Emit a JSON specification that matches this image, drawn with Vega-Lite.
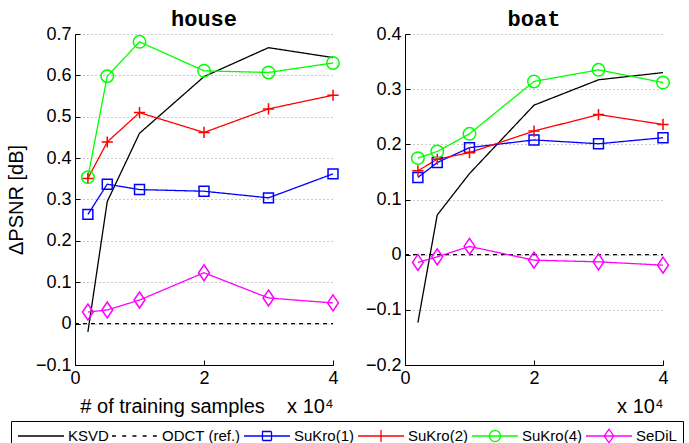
{
  "$schema": "https://vega.github.io/schema/vega-lite/v6.json",
  "padding": {"left": 6, "top": 8, "right": 0, "bottom": 0},
  "background": "white",
  "spacing": 22,
  "data": {
    "values": [
      {"img": "house", "m": "KSVD", "x": 0.2, "y": -0.02},
      {"img": "house", "m": "KSVD", "x": 0.5, "y": 0.295},
      {"img": "house", "m": "KSVD", "x": 1, "y": 0.46},
      {"img": "house", "m": "KSVD", "x": 2, "y": 0.597},
      {"img": "house", "m": "KSVD", "x": 3, "y": 0.667},
      {"img": "house", "m": "KSVD", "x": 4, "y": 0.643},
      {"img": "house", "m": "ODCT (ref.)", "x": 0, "y": 0},
      {"img": "house", "m": "ODCT (ref.)", "x": 4, "y": 0},
      {"img": "house", "m": "SuKro(1)", "x": 0.2, "y": 0.264},
      {"img": "house", "m": "SuKro(1)", "x": 0.5, "y": 0.337},
      {"img": "house", "m": "SuKro(1)", "x": 1, "y": 0.324},
      {"img": "house", "m": "SuKro(1)", "x": 2, "y": 0.32},
      {"img": "house", "m": "SuKro(1)", "x": 3, "y": 0.304},
      {"img": "house", "m": "SuKro(1)", "x": 4, "y": 0.362},
      {"img": "house", "m": "SuKro(2)", "x": 0.2, "y": 0.351},
      {"img": "house", "m": "SuKro(2)", "x": 0.5, "y": 0.439},
      {"img": "house", "m": "SuKro(2)", "x": 1, "y": 0.51},
      {"img": "house", "m": "SuKro(2)", "x": 2, "y": 0.462},
      {"img": "house", "m": "SuKro(2)", "x": 3, "y": 0.519},
      {"img": "house", "m": "SuKro(2)", "x": 4, "y": 0.552},
      {"img": "house", "m": "SuKro(4)", "x": 0.2, "y": 0.354},
      {"img": "house", "m": "SuKro(4)", "x": 0.5, "y": 0.598},
      {"img": "house", "m": "SuKro(4)", "x": 1, "y": 0.681},
      {"img": "house", "m": "SuKro(4)", "x": 2, "y": 0.611},
      {"img": "house", "m": "SuKro(4)", "x": 3, "y": 0.607},
      {"img": "house", "m": "SuKro(4)", "x": 4, "y": 0.63},
      {"img": "house", "m": "SeDiL", "x": 0.2, "y": 0.028},
      {"img": "house", "m": "SeDiL", "x": 0.5, "y": 0.033},
      {"img": "house", "m": "SeDiL", "x": 1, "y": 0.057},
      {"img": "house", "m": "SeDiL", "x": 2, "y": 0.123},
      {"img": "house", "m": "SeDiL", "x": 3, "y": 0.062},
      {"img": "house", "m": "SeDiL", "x": 4, "y": 0.05},
      {"img": "boat", "m": "KSVD", "x": 0.2, "y": -0.123},
      {"img": "boat", "m": "KSVD", "x": 0.5, "y": 0.072},
      {"img": "boat", "m": "KSVD", "x": 1, "y": 0.147},
      {"img": "boat", "m": "KSVD", "x": 2, "y": 0.271},
      {"img": "boat", "m": "KSVD", "x": 3, "y": 0.317},
      {"img": "boat", "m": "KSVD", "x": 4, "y": 0.33},
      {"img": "boat", "m": "ODCT (ref.)", "x": 0, "y": 0},
      {"img": "boat", "m": "ODCT (ref.)", "x": 4, "y": 0},
      {"img": "boat", "m": "SuKro(1)", "x": 0.2, "y": 0.14},
      {"img": "boat", "m": "SuKro(1)", "x": 0.5, "y": 0.167},
      {"img": "boat", "m": "SuKro(1)", "x": 1, "y": 0.194},
      {"img": "boat", "m": "SuKro(1)", "x": 2, "y": 0.208},
      {"img": "boat", "m": "SuKro(1)", "x": 3, "y": 0.201},
      {"img": "boat", "m": "SuKro(1)", "x": 4, "y": 0.212},
      {"img": "boat", "m": "SuKro(2)", "x": 0.2, "y": 0.152},
      {"img": "boat", "m": "SuKro(2)", "x": 0.5, "y": 0.173},
      {"img": "boat", "m": "SuKro(2)", "x": 1, "y": 0.185},
      {"img": "boat", "m": "SuKro(2)", "x": 2, "y": 0.224},
      {"img": "boat", "m": "SuKro(2)", "x": 3, "y": 0.254},
      {"img": "boat", "m": "SuKro(2)", "x": 4, "y": 0.236},
      {"img": "boat", "m": "SuKro(4)", "x": 0.2, "y": 0.175},
      {"img": "boat", "m": "SuKro(4)", "x": 0.5, "y": 0.187},
      {"img": "boat", "m": "SuKro(4)", "x": 1, "y": 0.219},
      {"img": "boat", "m": "SuKro(4)", "x": 2, "y": 0.314},
      {"img": "boat", "m": "SuKro(4)", "x": 3, "y": 0.335},
      {"img": "boat", "m": "SuKro(4)", "x": 4, "y": 0.312},
      {"img": "boat", "m": "SeDiL", "x": 0.2, "y": -0.014},
      {"img": "boat", "m": "SeDiL", "x": 0.5, "y": -0.004},
      {"img": "boat", "m": "SeDiL", "x": 1, "y": 0.015},
      {"img": "boat", "m": "SeDiL", "x": 2, "y": -0.01},
      {"img": "boat", "m": "SeDiL", "x": 3, "y": -0.013},
      {"img": "boat", "m": "SeDiL", "x": 4, "y": -0.019}
    ]
  },
  "hconcat": [
    {
      "width": 258,
      "height": 331,
      "title": {"text": "house", "anchor": "middle", "frame": "group"},
      "transform": [{"filter": "datum.img === 'house'"}],
      "layer": [
        {
          "mark": {"type": "line", "strokeWidth": 1.3},
          "encoding": {
            "x": {"field": "x", "type": "quantitative", "scale": {"domain": [0, 4]},
              "axis": {"values": [0, 2, 4], "title": "# of training samples\u00a0\u00a0\u00a0\u00a0x 10\u2074", "titleAnchor": "end"}},
            "y": {"field": "y", "type": "quantitative", "scale": {"domain": [-0.1, 0.7]},
              "axis": {"values": [-0.1, 0, 0.1, 0.2, 0.3, 0.4, 0.5, 0.6, 0.7], "title": "\u0394PSNR [dB]", "grid": true}},
            "color": {"field": "m", "type": "nominal",
              "scale": {"domain": ["KSVD", "ODCT (ref.)", "SuKro(1)", "SuKro(2)", "SuKro(4)", "SeDiL"],
                "range": ["black", "black", "#0000ff", "#ff0000", "#00ff00", "#ff00ff"]},
              "legend": {
                "orient": "none", "legendX": -64, "legendY": 387,
                "direction": "horizontal", "title": null, "gridAlign": "none", "columns": 6,
                "labelFont": "Liberation Sans", "labelFontSize": 15, "labelColor": "black", "labelOffset": 33,
                "columnPadding": 0, "padding": 6, "strokeColor": "black", "fillColor": "white",
                "symbolSize": 256, "symbolStrokeWidth": 1.3, "symbolFillColor": "transparent",
                "symbolType": "stroke",
                "encode": {
                  "symbols": {
                    "update": {
                      "fill": {"value": "transparent"},
                      "shape": {"signal": "datum.value === 'KSVD' ? 'M-1,0L4.75,0' : datum.value === 'ODCT (ref.)' ? 'M-1,0L-0.361,0M0.278,0L0.917,0M1.556,0L2.194,0M2.833,0L3.472,0M4.111,0L4.75,0' : datum.value === 'SuKro(1)' ? 'M-1,0L4.75,0M1.3125,-0.5625h1.125v1.125h-1.125Z' : datum.value === 'SuKro(2)' ? 'M-1,0L4.75,0M1.875,-0.75L1.875,0.75' : datum.value === 'SuKro(4)' ? 'M-1,0L4.75,0M2.5625,0A0.6875,0.6875,0,1,1,1.1875,0A0.6875,0.6875,0,1,1,2.5625,0Z' : 'M-1,0L4.75,0M1.875,-0.85L2.475,0L1.875,0.85L1.275,0Z'"}
                    }
                  }
                }
              }},
            "strokeDash": {"field": "m", "type": "nominal", "legend": null,
              "scale": {"domain": ["KSVD", "ODCT (ref.)", "SuKro(1)", "SuKro(2)", "SuKro(4)", "SeDiL"],
                "range": [[1, 0], [4, 4], [1, 0], [1, 0], [1, 0], [1, 0]]}}
          }
        },
        {
          "transform": [{"filter": "datum.m !== 'KSVD' && datum.m !== 'ODCT (ref.)'"}],
          "mark": {"type": "point", "filled": false, "strokeWidth": 1.5, "size": 256, "opacity": 1},
          "encoding": {
            "x": {"field": "x", "type": "quantitative"},
            "y": {"field": "y", "type": "quantitative"},
            "color": {"field": "m", "type": "nominal"},
            "shape": {"field": "m", "type": "nominal", "legend": null,
              "scale": {"domain": ["SuKro(1)", "SuKro(2)", "SuKro(4)", "SeDiL"],
                "range": ["M-0.62,-0.62h1.24v1.24h-1.24Z", "M-0.7,0L0.7,0M0,-0.7L0,0.7", "M0.78,0A0.78,0.78,0,1,1,-0.78,0A0.78,0.78,0,1,1,0.78,0Z", "M0,-1L0.68,0L0,1L-0.68,0Z"]}}
          }
        }
      ]
    },
    {
      "width": 258,
      "height": 331,
      "title": {"text": "boat", "anchor": "middle", "frame": "group"},
      "transform": [{"filter": "datum.img === 'boat'"}],
      "layer": [
        {
          "mark": {"type": "line", "strokeWidth": 1.3},
          "encoding": {
            "x": {"field": "x", "type": "quantitative", "scale": {"domain": [0, 4]},
              "axis": {"values": [0, 2, 4], "title": "x 10\u2074", "titleAnchor": "end"}},
            "y": {"field": "y", "type": "quantitative", "scale": {"domain": [-0.2, 0.4]},
              "axis": {"values": [-0.2, -0.1, 0, 0.1, 0.2, 0.3, 0.4], "title": null, "grid": true}},
            "color": {"field": "m", "type": "nominal"},
            "strokeDash": {"field": "m", "type": "nominal", "legend": null,
              "scale": {"domain": ["KSVD", "ODCT (ref.)", "SuKro(1)", "SuKro(2)", "SuKro(4)", "SeDiL"],
                "range": [[1, 0], [4, 4], [1, 0], [1, 0], [1, 0], [1, 0]]}}
          }
        },
        {
          "transform": [{"filter": "datum.m !== 'KSVD' && datum.m !== 'ODCT (ref.)'"}],
          "mark": {"type": "point", "filled": false, "strokeWidth": 1.5, "size": 256, "opacity": 1},
          "encoding": {
            "x": {"field": "x", "type": "quantitative"},
            "y": {"field": "y", "type": "quantitative"},
            "color": {"field": "m", "type": "nominal"},
            "shape": {"field": "m", "type": "nominal", "legend": null,
              "scale": {"domain": ["SuKro(1)", "SuKro(2)", "SuKro(4)", "SeDiL"],
                "range": ["M-0.62,-0.62h1.24v1.24h-1.24Z", "M-0.7,0L0.7,0M0,-0.7L0,0.7", "M0.78,0A0.78,0.78,0,1,1,-0.78,0A0.78,0.78,0,1,1,0.78,0Z", "M0,-1L0.68,0L0,1L-0.68,0Z"]}}
          }
        }
      ]
    }
  ],
  "resolve": {"scale": {"y": "independent", "x": "independent"}},
  "config": {
    "view": {"stroke": null},
    "title": {"font": "Liberation Mono", "fontSize": 22, "fontWeight": "bold", "color": "black", "offset": -6},
    "axis": {
      "labelFont": "Liberation Sans", "labelFontSize": 18, "labelColor": "black",
      "titleFont": "Liberation Sans", "titleFontSize": 20, "titleFontWeight": "normal", "titleColor": "black",
      "domainColor": "black", "domainWidth": 1, "tickColor": "black", "tickWidth": 1,
      "tickSize": -5, "labelPadding": 9, "format": "~g",
      "gridColor": "#999999", "gridDash": [1, 3], "gridWidth": 1,
      "labelFlush": false, "labelOverlap": false
    },
    "axisX": {"grid": false, "titlePadding": 9},
    "axisY": {"titlePadding": 9}
  }
}
